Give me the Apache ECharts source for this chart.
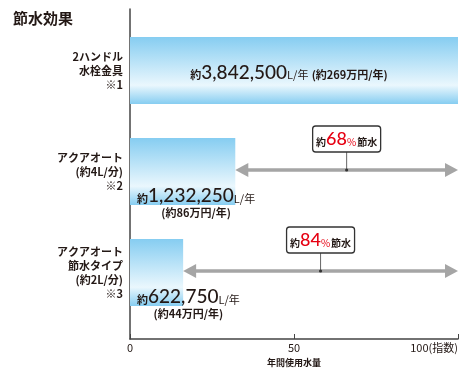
<!DOCTYPE html>
<html><head><meta charset="utf-8">
<script src="https://cdn.jsdelivr.net/npm/echarts@6/dist/echarts.min.js"></script>
<style>html,body{margin:0;padding:0;background:#fff}#c{width:470px;height:376px}</style>
</head><body><div id="c"></div>
<script>
const title = '節水効果';
const categories = ['2ハンドル\n水栓金具\n※1', 'アクアオート\n(約4L/分)\n※2', 'アクアオート\n節水タイプ\n(約2L/分)\n※3'];
const indexValues = [100, 32.1, 16.2];
const litersPerYear = [3842500, 1232250, 622750];
const costManYen = [269, 86, 44];
const savingPct = [null, 68, 84];
const xTicks = [0, 50, 100];
const xAxisName = '年間使用水量';
const xMaxSuffix = '(指数)';

const FONT = "'Noto Sans CJK JP', sans-serif";
const NUMFONT = "Lato, 'Noto Sans CJK JP', sans-serif";
const TXT = '#231815';
const fmt = n => n.toLocaleString('en-US');

const barFill = {type:'linear', x:0, y:0, x2:0, y2:1, colorStops:[
  {offset:0, color:'#86cdf1'}, {offset:0.72, color:'#eaf7fd'}, {offset:1, color:'#86cdf1'}]};

const rich = {
  s:{fontFamily:FONT, fontSize:11, fontWeight:'bold', color:TXT, verticalAlign:'bottom', padding:[0,0,2,0]},
  n:{fontFamily:NUMFONT, fontSize:19, fontWeight:500, color:TXT, lineHeight:20},
  u:{fontFamily:FONT, fontSize:11, color:TXT, verticalAlign:'bottom', padding:[0,0,2,0]},
  c:{fontFamily:FONT, fontSize:11, fontWeight:'bold', color:TXT, verticalAlign:'bottom', padding:[0,0,2,0]},
  c2:{fontFamily:FONT, fontSize:11, fontWeight:'bold', color:TXT, align:'center', lineHeight:13}
};

const barData = indexValues.map((v, i) => {
  if (i === 0) {
    return {value: v, label: {show:true, position:'inside', offset:[-5, 2], rich,
      formatter: '{s|約}{n|' + fmt(litersPerYear[i]) + '}{u|L/年} {c|(約' + costManYen[i] + '万円/年)}'}};
  }
  return {value: v, label: {show:true, position:[7, '100%'], align:'left', verticalAlign:'top', offset:[0,-19], rich,
    formatter: '{s|約}{n|' + fmt(litersPerYear[i]) + '}{u|L/年}\n{c2|(約' + costManYen[i] + '万円/年)}'}};
});

const arrowData = [];
savingPct.forEach((p, i) => { if (p != null) arrowData.push([indexValues[i], 100, i, p]); });

const chart = echarts.init(document.getElementById('c'), null, {renderer:'canvas'});
chart.setOption({
  animation:false,
  backgroundColor:'#fff',
  title:{text:title, left:8, top:6, textStyle:{fontFamily:FONT, fontSize:15, fontWeight:'bold', color:TXT}},
  grid:[
    {left:130, right:12, top:9, bottom:37},
    {left:130, right:12, top:20, bottom:53}
  ],
  xAxis:[
    {type:'value', gridIndex:0, min:xTicks[0], max:xTicks[xTicks.length-1], interval:xTicks[1]-xTicks[0],
     axisLine:{show:true, lineStyle:{color:'#444', width:1.5}},
     axisTick:{show:true, inside:true, length:5, lineStyle:{color:'#444', width:1}},
     splitLine:{show:false},
     axisLabel:{margin:3, fontFamily:FONT, fontSize:11, color:TXT, alignMaxLabel:'right',
       formatter: v => v === xTicks[xTicks.length-1] ? v + xMaxSuffix : String(v)},
     name:xAxisName, nameLocation:'middle', nameGap:19,
     nameTextStyle:{fontFamily:FONT, fontSize:9, fontWeight:'bold', color:TXT}},
    {type:'value', gridIndex:1, min:0, max:100, show:false}
  ],
  yAxis:[
    {type:'value', gridIndex:0, min:0, max:1, axisLine:{show:true, lineStyle:{color:'#444', width:1.5}},
     axisTick:{show:false}, axisLabel:{show:false}, splitLine:{show:false}},
    {type:'category', gridIndex:1, inverse:true, data:categories,
     axisLine:{show:false}, axisTick:{show:false}, splitLine:{show:false},
     axisLabel:{margin:7, align:'right', fontFamily:FONT, fontSize:11, fontWeight:'bold', color:TXT, lineHeight:14}}
  ],
  series:[
    {type:'bar', xAxisIndex:1, yAxisIndex:1, barWidth:67, data:barData, itemStyle:{color:barFill}, z:2},
    {type:'custom', xAxisIndex:1, yAxisIndex:1, encode:{x:[0,1], y:2}, data:arrowData, z:3,
     renderItem(params, api){
       const a = api.coord([api.value(0), api.value(2)]);
       const b = api.coord([api.value(1), api.value(2)]);
       const y = a[1] - 1.5, x1 = a[0], x2 = b[0];
       const head = 13, hw = 7, col = '#a5a5a5';
       const mx = (x1 + x2) / 2;
       const pct = api.value(3);
       const bw = 68, bh = 26, gap = 18;
       return {type:'group', children:[
         {type:'rect', shape:{x:x1+head-1, y:y-1.8, width:x2-x1-2*head+2, height:3.6}, style:{fill:col}},
         {type:'polygon', shape:{points:[[x1,y],[x1+head,y-hw],[x1+head,y+hw]]}, style:{fill:col}},
         {type:'polygon', shape:{points:[[x2,y],[x2-head,y-hw],[x2-head,y+hw]]}, style:{fill:col}},
         {type:'line', shape:{x1:mx, y1:y-gap, x2:mx, y2:y}, style:{stroke:'#666', lineWidth:1}},
         {type:'circle', shape:{cx:mx, cy:y, r:1.6}, style:{fill:'#333'}},
         {type:'rect', shape:{x:mx-bw/2, y:y-gap-bh, width:bw, height:bh, r:3}, style:{fill:'#fff', stroke:'#333', lineWidth:1.3}},
         {type:'text', x:mx, y:y-gap-bh/2, style:{
           text:'{a|約}{p|' + pct + '}{q|%}{a|節水}', align:'center', verticalAlign:'middle',
           rich:{
             a:{fontFamily:FONT, fontSize:10, fontWeight:'bold', fill:TXT, verticalAlign:'bottom', padding:[0,0,1,0]},
             p:{fontFamily:NUMFONT, fontSize:18, fontWeight:500, fill:'#e60012', lineHeight:18},
             q:{fontFamily:FONT, fontSize:10, fill:'#e60012', verticalAlign:'bottom', padding:[0,1,1,0]}
           }}}
       ]};
     }}
  ]
});
</script></body></html>
